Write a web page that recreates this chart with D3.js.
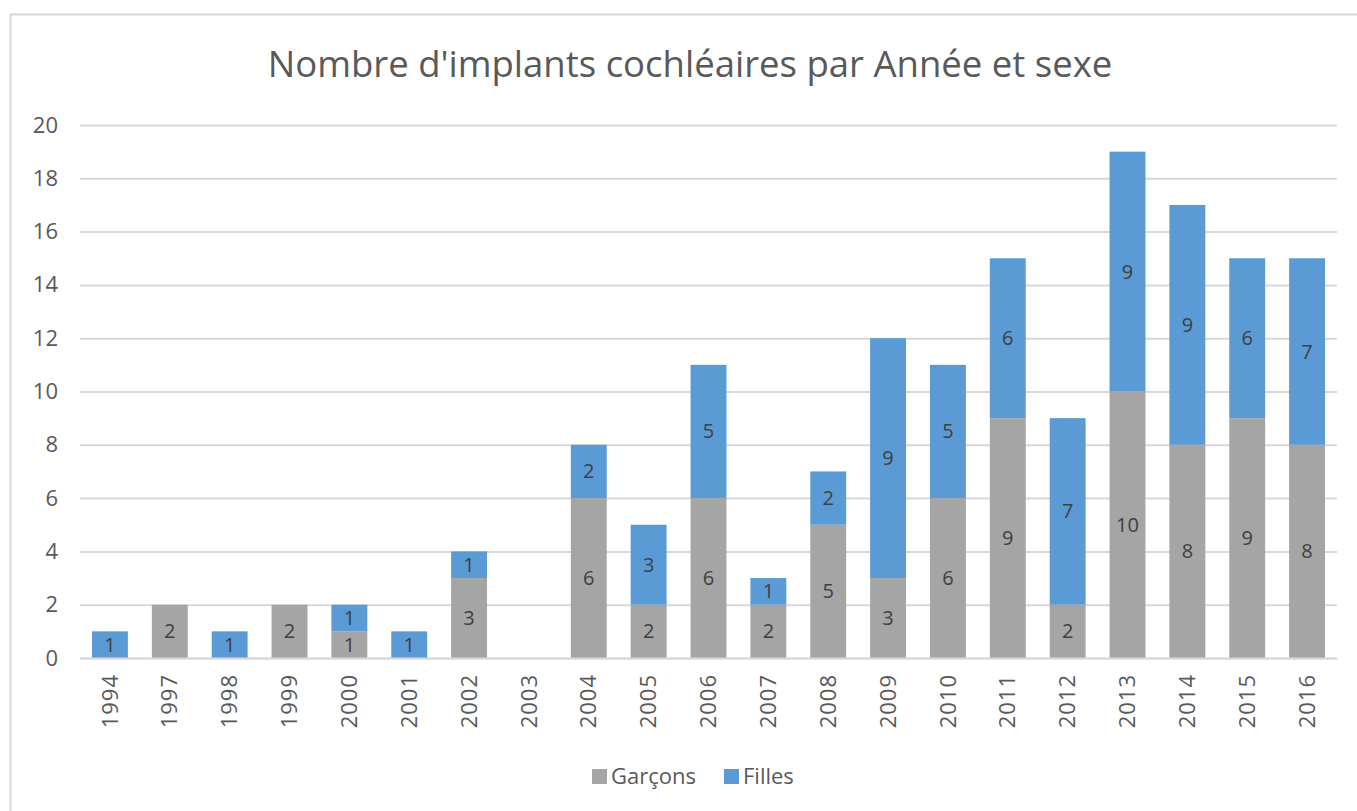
<!DOCTYPE html>
<html>
<head>
<meta charset="utf-8">
<script src="https://cdn.jsdelivr.net/npm/d3@7"></script>
<style>
  body { margin: 0; background: #fff; }
  text { font-family: "Open Sans", "Noto Sans", sans-serif; }
</style>
</head>
<body>
<script>
// years on the x axis (1995 and 1996 are missing in the source)
const annees = ["1994","1997","1998","1999","2000","2001","2002","2003","2004","2005",
  "2006","2007","2008","2009","2010","2011","2012","2013","2014","2015","2016"];
const garcons = [0,2,0,2,1,0,3,0,6,2,6,2,5,3,6,9,2,10,8,9,8];
const filles  = [1,0,1,0,1,1,1,0,2,3,5,1,2,9,5,6,7,9,9,6,7];
const yTicks = [0,2,4,6,8,10,12,14,16,18,20];
const seriesNames = ["Garçons", "Filles"];
const colors = ["#A5A5A5", "#5B9BD5"];

const W = 1357, H = 811;
const margin = {top: 125, right: 20, bottom: 153, left: 80};

let svg = d3.select("body").append("svg")
  .attr("width", W)
  .attr("height", H);

// chart frame
svg.append("rect")
  .attr("x", 10.5).attr("y", 14.5)
  .attr("width", W + 20).attr("height", H + 20)
  .attr("fill", "none")
  .attr("stroke", "#D9D9D9")
  .attr("stroke-width", 2);

svg.append("text")
  .attr("x", 690).attr("y", 77)
  .attr("text-anchor", "middle")
  .attr("font-size", 36.5)
  .attr("fill", "#595959")
  .text("Nombre d'implants cochléaires par Année et sexe");

let x = d3.scaleBand()
  .domain(annees)
  .range([margin.left, W - margin.right])
  .paddingInner(0.4)
  .paddingOuter(0.2);

let y = d3.scaleLinear()
  .domain([0, 20])
  .range([H - margin.bottom, margin.top]);

// gridlines + y labels
let yAxis = svg.append("g")
  .attr("transform", `translate(${margin.left},0)`)
  .call(d3.axisLeft(y).tickValues(yTicks).tickSize(-(W - margin.right - margin.left)).tickPadding(22));
yAxis.select(".domain").remove();
yAxis.selectAll("line").attr("stroke", "#D9D9D9").attr("stroke-width", 2);
yAxis.selectAll("text").attr("font-size", 22).attr("fill", "#595959")
  .style("font-family", "'Open Sans', sans-serif");

// stacked data
let table = annees.map((a, i) => ({annee: a, Garçons: garcons[i], Filles: filles[i]}));
let stack = d3.stack().keys(seriesNames)(table);

let layers = svg.selectAll("g.layer").data(stack)
  .enter().append("g")
    .attr("class", "layer")
    .attr("fill", (d, i) => colors[i]);

layers.selectAll("rect").data(d => d)
  .enter().append("rect")
    .attr("x", d => x(d.data.annee))
    .attr("width", x.bandwidth())
    .attr("y", d => y(d[1]))
    .attr("height", d => y(d[0]) - y(d[1]));

layers.selectAll("text").data(d => d.filter(p => p[1] - p[0] > 0))
  .enter().append("text")
    .attr("x", d => x(d.data.annee) + x.bandwidth() / 2)
    .attr("y", d => (y(d[0]) + y(d[1])) / 2)
    .attr("dy", "0.35em")
    .attr("text-anchor", "middle")
    .attr("font-size", 20)
    .attr("fill", "#404040")
    .text(d => d[1] - d[0]);

// x axis
let xAxis = svg.append("g")
  .attr("transform", `translate(0,${H - margin.bottom})`)
  .call(d3.axisBottom(x).tickSize(0).tickPadding(0));
xAxis.select(".domain").attr("stroke", "#D9D9D9").attr("stroke-width", 2);
xAxis.selectAll("text")
  .attr("font-size", 22)
  .attr("fill", "#595959")
  .style("font-family", "'Open Sans', sans-serif")
  .style("letter-spacing", "1px")
  .attr("transform", "rotate(-90)")
  .attr("text-anchor", "end")
  .attr("x", -16)
  .attr("y", 0)
  .attr("dy", "0.35em");

// legend
let legendX = [592, 724];
let legend = svg.selectAll("g.legend").data(seriesNames)
  .enter().append("g")
    .attr("class", "legend")
    .attr("transform", (d, i) => `translate(${legendX[i]},769)`);
legend.append("rect")
  .attr("width", 15).attr("height", 15)
  .attr("fill", (d, i) => colors[i]);
legend.append("text")
  .attr("x", 19).attr("y", 7.5)
  .attr("dy", "0.35em")
  .attr("font-size", 22)
  .attr("fill", "#595959")
  .text(d => d);
</script>
</body>
</html>
